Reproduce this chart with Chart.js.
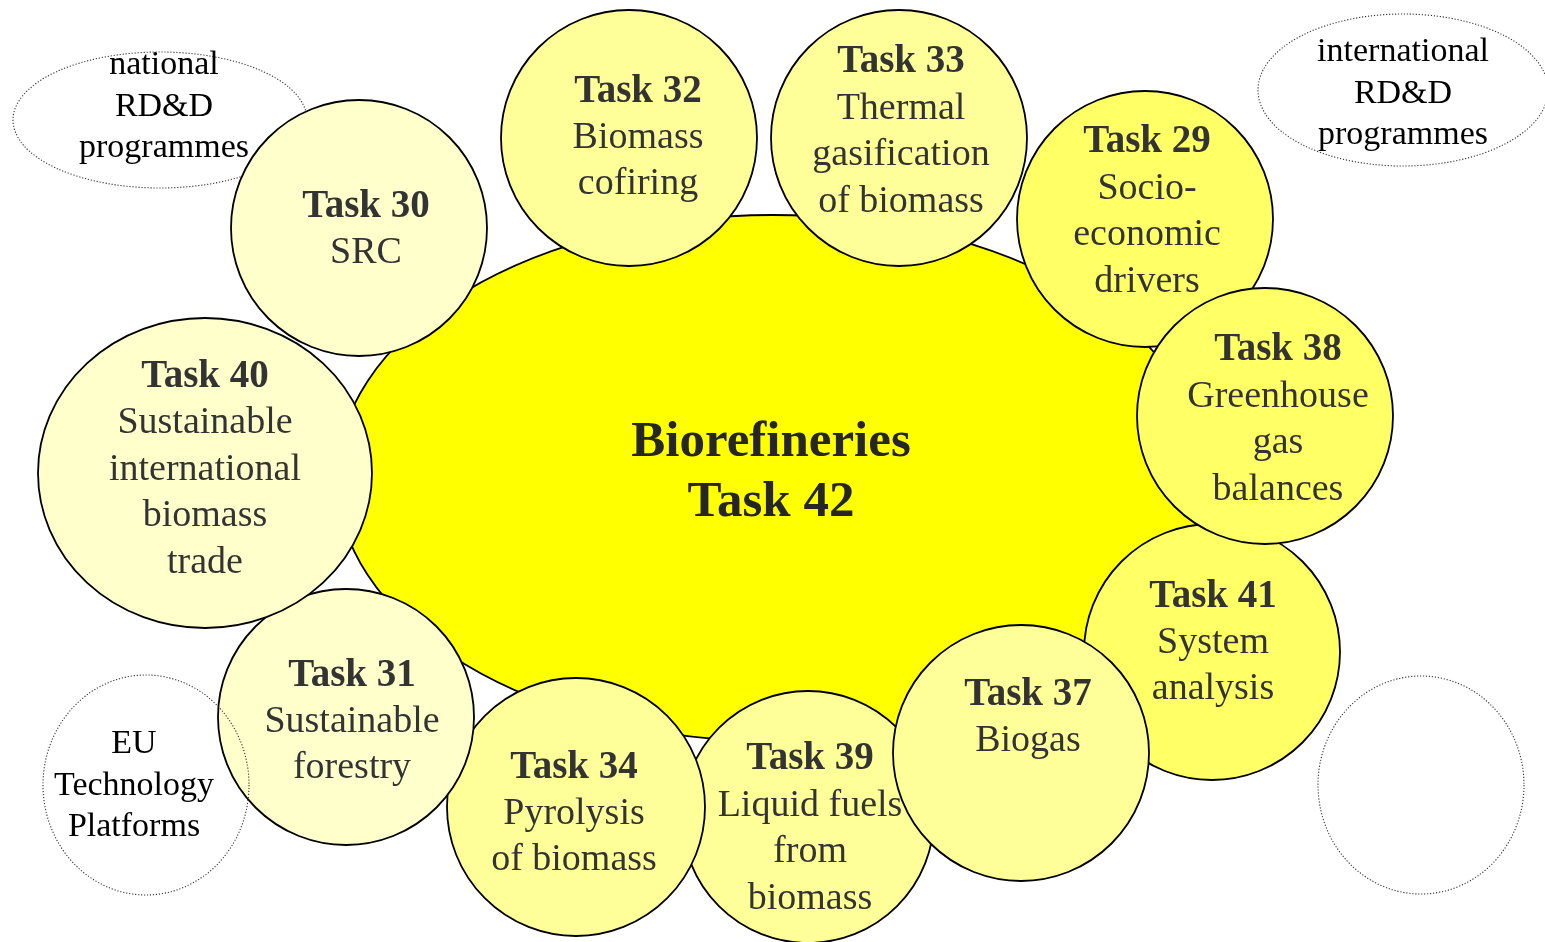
<!DOCTYPE html>
<html>
<head>
<meta charset="utf-8">
<title>IEA Bioenergy - Task 42 Biorefineries</title>
<script src="https://cdn.jsdelivr.net/npm/chart.js@4.4.1/dist/chart.umd.min.js"></script>
<style>
  html, body { margin:0; padding:0; background:#fff; }
  #tasks-chart { display:block; }
</style>
</head>
<body>
<canvas id="tasks-chart" width="1545" height="942"></canvas>
<script>
/* ============================================================
   Task 42 and the neighbouring IEA Bioenergy tasks
   each task = one bubble, listed bottom-most first
   ============================================================ */

const taskNames = ['Task 32','Task 33','Task 29','Task 41','Task 38','Task 39','Task 34','Task 37','Task 31','Task 40','Task 30'];
const taskTopics = [
  ['Biomass','cofiring'],
  ['Thermal','gasification','of biomass'],
  ['Socio-','economic','drivers'],
  ['System','analysis'],
  ['Greenhouse','gas','balances'],
  ['Liquid fuels','from','biomass'],
  ['Pyrolysis','of biomass'],
  ['Biogas'],
  ['Sustainable','forestry'],
  ['Sustainable','international','biomass','trade'],
  ['SRC']
];
const taskX  = [629, 899, 1145, 1212, 1265, 808, 576, 1021, 346, 205, 359];
const taskY  = [138, 138,  219,  652,  416, 817, 807,  753, 717, 473, 228];
const taskRx = [128, 128,  128,  128,  128, 126, 129,  128, 128, 167, 128];
const taskRy = [128, 128,  128,  128,  128, 126, 129,  128, 128, 155, 128];
const taskTone = [2, 2, 3, 3, 3, 2, 2, 2, 1, 1, 1];   // 1 pale, 2 light, 3 strong

// the hub
const hubTitle = ['Biorefineries','Task 42'];
const hubX = 772, hubY = 478, hubRx = 435, hubRy = 263;

// dotted programme notes
const noteText = [['national','RD&D','programmes'], ['international','RD&D','programmes'], ['EU','Technology','Platforms'], []];
const noteX  = [160, 1403, 146, 1421];
const noteY  = [120,   90, 785,  785];
const noteRx = [147,  145, 103,  103];
const noteRy = [ 68,   76, 110,  109];

/* ---------- layout / style ---------- */
const TONES = { 1:'#FFFFCC', 2:'#FFFF99', 3:'#FFFF66' };
const SERIF = '"Liberation Serif", "Times New Roman", serif';
const OUTLINE = 1.8;
const LABEL_NUDGE = {            // [dx, dy] of the text block vs circle centre
  'Task 32':[9,-3], 'Task 33':[2,-9], 'Task 29':[2,-10], 'Task 41':[1,-12], 'Task 38':[13,1],
  'Task 39':[2,9], 'Task 34':[-2,4], 'Task 37':[7,-38], 'Task 31':[6,2], 'Task 40':[0,-6], 'Task 30':[7,-1]
};
const NOTE_NUDGE = [[4,-16], [0,1], [-12,-2], [0,0]];
const NOTE_ON_TOP = [false, true, true, true];   // national note sits under Task 30

function ellipseSprite(rx, ry, fill) {
  const c = document.createElement('canvas');
  c.width = Math.ceil(rx*2 + 4); c.height = Math.ceil(ry*2 + 4);
  const g = c.getContext('2d');
  g.beginPath();
  g.ellipse(c.width/2, c.height/2, rx, ry, 0, 0, Math.PI*2);
  g.fillStyle = fill; g.fill();
  g.lineWidth = OUTLINE; g.strokeStyle = '#000'; g.stroke();
  return c;
}

function textBlock(ctx, lines, x, y, lineH, fonts, color) {
  ctx.save();
  ctx.fillStyle = color;
  ctx.textAlign = 'center';
  ctx.textBaseline = 'middle';
  const y0 = y + 3 - (lines.length - 1) * lineH / 2;
  lines.forEach((t, i) => {
    ctx.font = fonts[Math.min(i, fonts.length-1)];
    ctx.fillText(t, x, y0 + i*lineH);
  });
  ctx.restore();
}

function drawNote(chart, i) {
  const { ctx, scales:{x, y} } = chart;
  const px = x.getPixelForValue(noteX[i]), py = y.getPixelForValue(noteY[i]);
  const rx = x.getPixelForValue(noteX[i] + noteRx[i]) - px;
  const ry = y.getPixelForValue(noteY[i] + noteRy[i]) - py;
  ctx.save();
  ctx.beginPath();
  ctx.ellipse(px, py, Math.abs(rx), Math.abs(ry), 0, 0, Math.PI*2);
  ctx.setLineDash([1.2, 1.8]);
  ctx.lineWidth = 1.1;
  ctx.strokeStyle = '#333';
  ctx.stroke();
  ctx.restore();
  const [dx, dy] = NOTE_NUDGE[i];
  textBlock(ctx, noteText[i], px + dx, py + dy, 41.5, [`34px ${SERIF}`], '#000');
}

const diagramPlugin = {
  id: 'taskDiagram',
  beforeDatasetsDraw(chart) {
    const { ctx, scales:{x, y} } = chart;
    const px = x.getPixelForValue(hubX), py = y.getPixelForValue(hubY);
    const rx = x.getPixelForValue(hubX + hubRx) - px;
    const ry = Math.abs(y.getPixelForValue(hubY + hubRy) - py);
    ctx.save();
    ctx.beginPath();
    ctx.ellipse(px, py, rx, ry, 0, 0, Math.PI*2);
    ctx.fillStyle = '#FFFF00'; ctx.fill();
    ctx.lineWidth = OUTLINE; ctx.strokeStyle = '#000'; ctx.stroke();
    ctx.restore();
    textBlock(ctx, hubTitle, px - 1, py - 8, 60, [`bold 51px ${SERIF}`], '#262626');
    noteText.forEach((_, i) => { if (!NOTE_ON_TOP[i]) drawNote(chart, i); });
  },
  afterDatasetDraw(chart, args) {
    const el = args.meta.data[0];
    if (!el) return;
    const name = taskNames[args.index];
    const [dx, dy] = LABEL_NUDGE[name] || [0, 0];
    textBlock(chart.ctx, [name, ...taskTopics[args.index]], el.x + dx, el.y + dy, 46.5,
      [`bold 39px ${SERIF}`, `38px ${SERIF}`], '#333');
  },
  afterDatasetsDraw(chart) {
    noteText.forEach((_, i) => { if (NOTE_ON_TOP[i]) drawNote(chart, i); });
  }
};

const n = taskNames.length;
const datasets = taskNames.map((name, i) => ({
  label: name,
  data: [{ x: taskX[i], y: taskY[i], r: Math.max(taskRx[i], taskRy[i]) }],
  backgroundColor: TONES[taskTone[i]],
  borderColor: '#000',
  borderWidth: OUTLINE,
  pointStyle: taskRx[i] === taskRy[i] ? 'circle' : ellipseSprite(taskRx[i], taskRy[i], TONES[taskTone[i]]),
  order: n - i,
  clip: false
}));

new Chart(document.getElementById('tasks-chart'), {
  type: 'bubble',
  data: { datasets },
  options: {
    responsive: false,
    animation: false,
    events: [],
    devicePixelRatio: 1,
    layout: { padding: 0, autoPadding: false },
    plugins: { legend: { display:false }, tooltip: { enabled:false } },
    scales: {
      x: { type:'linear', min:0, max:1545, display:false },
      y: { type:'linear', min:0, max:942, reverse:true, display:false }
    }
  },
  plugins: [diagramPlugin]
});
</script>
</body>
</html>
